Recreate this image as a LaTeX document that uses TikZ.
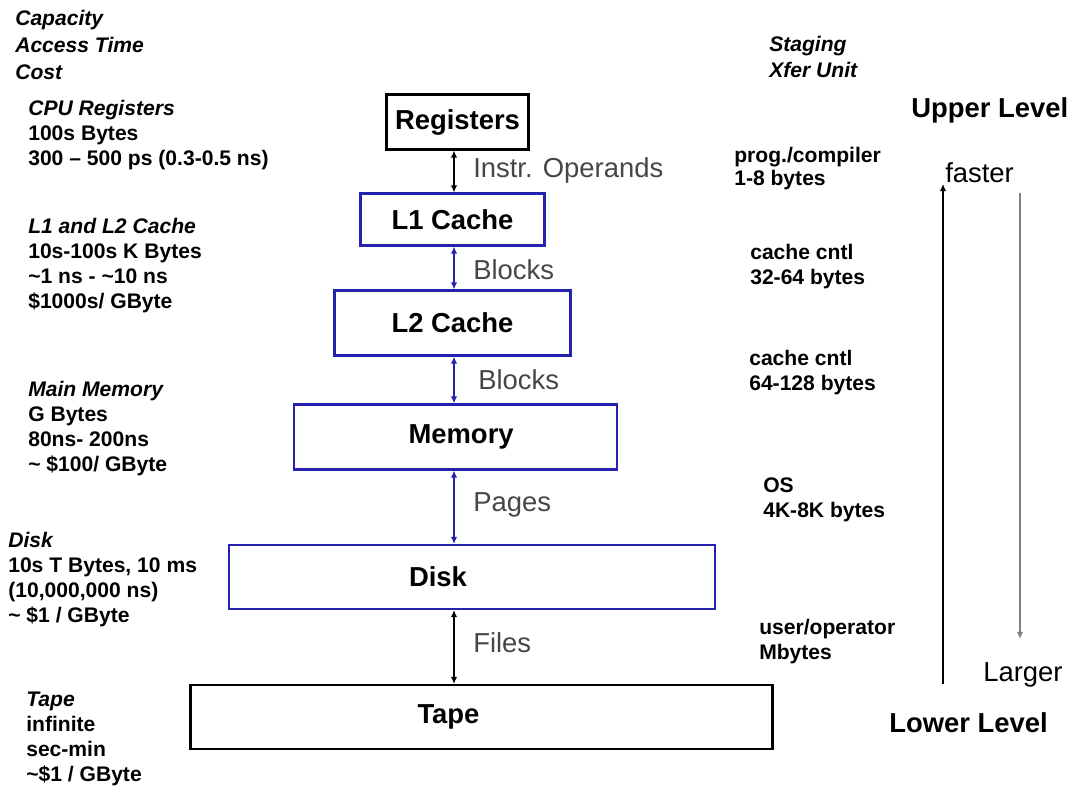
\documentclass[tikz,border=0pt]{standalone}
\usepackage{fontspec}
\setmainfont{Liberation Sans}
\usepackage{xcolor}
\usepackage{tikz}
\usetikzlibrary{arrows.meta}

\definecolor{levelblue}{RGB}{35,35,175}
\definecolor{linkgray}{RGB}{70,70,70}

\begin{document}
\begin{tikzpicture}[
    x=0.025cm, y=-0.025cm,
    >={Latex[length=5pt, width=4.5pt]},
    blackblock/.style={rectangle, draw=black, line width=1.6pt, font=\bfseries\fontsize{19.5}{22}\selectfont, inner sep=0pt},
    blueblock/.style={blackblock, draw=levelblue},
    info/.style={anchor=north west, inner sep=0pt, align=left, font=\bfseries\fontsize{15}{17.8}\selectfont},
    lbl/.style={anchor=west, inner sep=0pt, font=\fontsize{19.5}{22}\selectfont, text=linkgray},
    lvl/.style={anchor=west, inner sep=0pt, font=\bfseries\fontsize{19.5}{22}\selectfont},
    link/.style={<->, line width=0.8pt},
]
\useasboundingbox (0,0) rectangle (1073,793);

% Levels
\node[blackblock, minimum width=3.55cm, minimum height=1.375cm] (reg) at (457.5,122) {Registers};
\node[blueblock, minimum width=4.6cm, minimum height=1.3cm] (l1) at (452.5,219.5) {L1 Cache};
\node[blueblock, minimum width=5.9cm, minimum height=1.625cm] (l2) at (452.5,323) {L2 Cache};
\node[blueblock, minimum width=8.075cm, minimum height=1.625cm] (mem) at (455.5,437) {\kern0.28cm Memory};
\node[blueblock, minimum width=12.15cm, minimum height=1.6cm] (disk) at (472,577) {Disk\kern1.7cm};
\node[blackblock, minimum width=14.55cm, minimum height=1.6cm] (tape) at (481.5,717) {Tape\kern1.65cm};

% Transfers
\coordinate (ax) at (454,0);
\draw[link] (reg.south -| ax) -- (l1.north -| ax);
\draw[link, levelblue] (l1.south -| ax) -- (l2.north -| ax);
\draw[link, levelblue] (l2.south -| ax) -- (mem.north -| ax);
\draw[link, levelblue] (mem.south -| ax) -- (disk.north -| ax);
\draw[link] (disk.south -| ax) -- (tape.north -| ax);

\node[lbl] (instr) at (473,170) {Instr. Operands};
\node[lbl] (blk1) at (473,270) {Blocks};
\node[lbl] (blk2) at (478,380) {Blocks};
\node[lbl] (pages) at (473,505) {Pages};
\node[lbl] (files) at (473,643) {Files};

% Left column
\node[info, font=\bfseries\itshape\fontsize{15}{19.2}\selectfont] (head) at (15,10) {Capacity\\Access Time\\Cost};
\node[info] (regInfo) at (28,100) {\textit{CPU Registers}\\100s Bytes\\300 -- 500 ps (0.3-0.5 ns)};
\node[info] (cacheInfo) at (28,218) {\textit{L1 and L2 Cache}\\10s-100s K Bytes\\\textasciitilde1 ns - \textasciitilde10 ns\\\$1000s/ GByte};
\node[info] (memInfo) at (28,381) {\textit{Main Memory}\\G Bytes\\80ns- 200ns\\\textasciitilde{} \$100/ GByte};
\node[info] (diskInfo) at (8,532) {\textit{Disk}\\10s T Bytes, 10 ms\\(10,000,000 ns)\\\textasciitilde{} \$1 / GByte};
\node[info] (tapeInfo) at (26,692) {\textit{Tape}\\infinite\\sec-min\\\textasciitilde\$1 / GByte};

% Right column
\node[info, font=\bfseries\itshape\fontsize{15}{18.5}\selectfont] (stage) at (769,36) {Staging\\Xfer Unit};
\node[info, font=\bfseries\fontsize{15}{16.5}\selectfont] (xfer1) at (734,147) {prog./compiler\\1-8 bytes};
\node[info] (xfer2) at (750,244) {cache cntl\\32-64 bytes};
\node[info] (xfer3) at (749,350) {cache cntl\\64-128 bytes};
\node[info] (xfer4) at (763,477) {OS\\4K-8K bytes};
\node[info] (xfer5) at (759,619) {user/operator\\Mbytes};

% Direction
\node[lvl] (upper) at (911,110) {Upper Level};
\node[lvl] (lower) at (889,723) {Lower Level};
\node[lbl, text=black] (faster) at (945,173) {faster};
\node[lbl, text=black] (larger) at (983,675) {Larger};

\coordinate (upbot) at (943,684);
\coordinate (uptop) at (943,184);
\coordinate (dntop) at (1020,193);
\coordinate (dnbot) at (1020,639);
\draw[->, line width=0.9pt] (upbot) -- (uptop);
\draw[->, line width=0.9pt, gray] (dntop) -- (dnbot);

\end{tikzpicture}
\end{document}
